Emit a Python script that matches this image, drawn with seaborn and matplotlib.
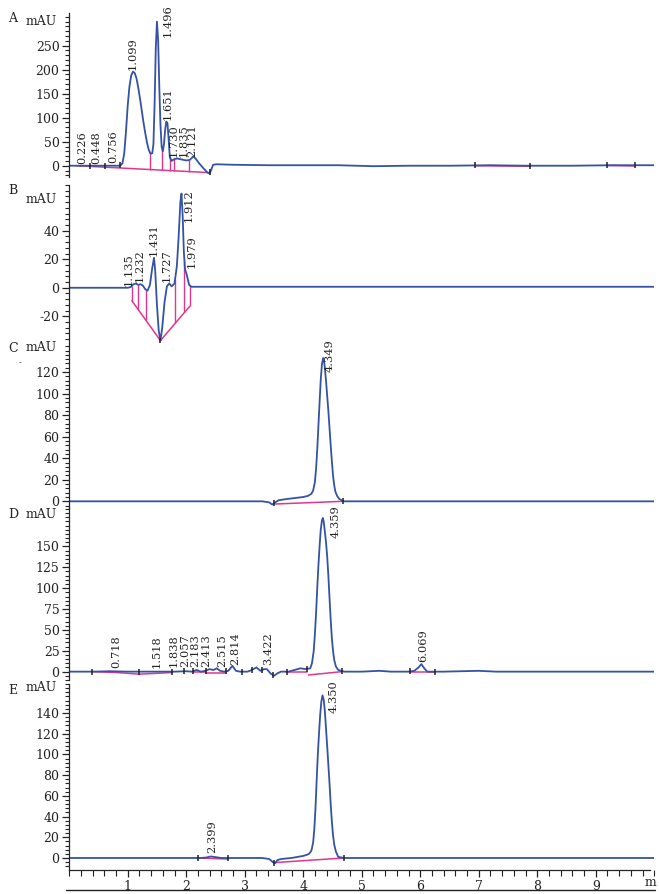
import numpy as np
import matplotlib
matplotlib.use("Agg")
import matplotlib.pyplot as plt
from matplotlib.ticker import MultipleLocator, FixedLocator, FuncFormatter
import seaborn as sns

sns.set_style("ticks")
plt.rcParams['font.family'] = ['DejaVu Serif']

BLUE = '#3452a6'
PINK = '#e2368c'

# ---- chromatogram A (time in min, signal in mAU)
a_time = [0.00, 0.30, 0.60, 0.85, 0.88, 0.91, 0.94, 0.97, 1.00, 1.03,
          1.06, 1.09, 1.12, 1.15, 1.18, 1.21, 1.24, 1.27, 1.30, 1.33,
          1.36, 1.39, 1.42, 1.44, 1.46, 1.48, 1.50, 1.52, 1.54, 1.56,
          1.58, 1.60, 1.62, 1.64, 1.66, 1.68, 1.70, 1.72, 1.75, 1.80,
          1.85, 1.92, 2.00, 2.06, 2.12, 2.16, 2.22, 2.30, 2.36, 2.40,
          2.43, 2.46, 2.52, 2.80, 3.40, 4.00, 4.60, 5.20, 5.80, 6.50,
          7.20, 7.80, 8.60, 9.30, 10.00]
a_mau = [0, 0, 0, 0, 1, 5, 25, 70, 125, 165,
         188, 196, 193, 182, 163, 140, 115, 90, 68, 48,
         33, 25, 26, 45, 130, 245, 300, 262, 165, 85,
         40, 30, 45, 75, 92, 88, 55, 18, 10, 14,
         15, 13, 11, 12, 19, 15, 5, -6, -14, -16,
         -8, 2, 3, 2, 1, 1, 1, -1, 0, 0,
         1, 0, 0, 1, 1]
a_peaks = ['0.226', '0.448', '0.756', '1.099', '1.496', '1.651', '1.730', '1.835', '2.121']
a_label_x = [0.22, 0.47, 0.75, 1.09, 1.69, 1.69, 1.79, 1.95, 2.11]
a_label_y = [4, 4, 5, 199, 269, 95, 19, 19, 19]
a_base = [([0.13, 2.41], [0, -14.5]), ([6.94, 7.88], [0, -1]), ([9.19, 9.67], [0.5, -0.5])]
a_drops = [1.38, 1.58, 1.72, 1.79, 2.04]
a_marks = [0.36, 0.61, 0.87, 2.41, 6.94, 7.88, 9.19, 9.67]

# ---- chromatogram B
b_time = [0.00, 0.50, 1.00, 1.05, 1.10, 1.14, 1.18, 1.22, 1.26, 1.30,
          1.34, 1.38, 1.42, 1.45, 1.47, 1.50, 1.53, 1.56, 1.59, 1.63,
          1.67, 1.71, 1.75, 1.80, 1.84, 1.87, 1.90, 1.92, 1.94, 1.96,
          1.98, 2.01, 2.05, 2.09, 2.30, 3.00, 4.00, 5.00, 6.00, 7.00,
          8.00, 9.00, 10.00]
b_mau = [0, 0, 0, 0.5, 2.5, 3, 2, 2.5, 1.5, -1,
         -2, 2, 14, 21, 12, -12, -30, -37, -28, -10,
         1, 3, 1, 3, 15, 35, 60, 66, 50, 25,
         13, 9, 2, 0.7, 0.7, 0.7, 0.7, 0.7, 0.7, 0.7,
         0.7, 0.7, 0.7]
b_peaks = ['1.135', '1.232', '1.431', '1.727', '1.912', '1.979']
b_label_x = [1.01, 1.21, 1.45, 1.67, 2.04, 2.09]
b_label_y = [1, 4, 22, 4, 46, 14]
b_base = [([1.07, 1.56, 2.06], [-9, -37, -13])]
b_drops = [1.07, 1.18, 1.31, 1.81, 1.97, 2.06]
b_marks = [1.56]

# ---- chromatogram C
c_time = [0.00, 1.00, 2.00, 3.00, 3.30, 3.42, 3.47, 3.52, 3.58, 3.70,
          3.85, 4.00, 4.08, 4.14, 4.17, 4.20, 4.22, 4.24, 4.26, 4.28,
          4.30, 4.32, 4.34, 4.355, 4.37, 4.39, 4.41, 4.43, 4.45, 4.47,
          4.49, 4.51, 4.53, 4.55, 4.58, 4.62, 4.70, 5.00, 6.00, 7.00,
          8.00, 9.00, 10.00]
c_mau = [0, 0, 0, 0, 0, -1, -3, -1, 1, 2,
         3, 4, 5, 7, 10, 18, 30, 48, 70, 92,
         113, 127, 133, 131, 124, 112, 98, 84, 68, 52,
         37, 24, 15, 9, 5, 2, 0, 0, 0, 0,
         0, 0, 0]
c_peaks = ['4.349']
c_label_x = [4.46]
c_label_y = [120]
c_base = [([3.52, 4.68], [-2.5, 0])]
c_drops = []
c_marks = [3.50, 4.68]

# ---- chromatogram D
d_time = [0.00, 0.40, 0.70, 1.00, 1.50, 1.80, 2.00, 2.10, 2.18, 2.25,
          2.33, 2.40, 2.47, 2.52, 2.58, 2.65, 2.72, 2.79, 2.85, 2.92,
          3.05, 3.12, 3.20, 3.27, 3.33, 3.38, 3.44, 3.50, 3.56, 3.62,
          3.75, 3.85, 3.95, 4.05, 4.12, 4.15, 4.18, 4.20, 4.22, 4.24,
          4.26, 4.28, 4.30, 4.32, 4.335, 4.35, 4.37, 4.39, 4.41, 4.43,
          4.45, 4.47, 4.49, 4.51, 4.53, 4.56, 4.60, 4.70, 5.00, 5.30,
          5.50, 5.80, 5.90, 5.97, 6.02, 6.07, 6.12, 6.40, 7.00, 7.30,
          8.00, 9.00, 10.00]
d_mau = [0, 0, 0.5, 0, 0, 0, 0.5, 0, 2, 0,
         1, 3, 2, 4, 1, 0, 1, 7, 1, 0,
         0, 2, 5, 1, 3, 3, -2, -5, -2, 0,
         0, 2, 4, 3, 4, 10, 25, 45, 70, 100,
         127, 150, 170, 181, 184, 180, 168, 155, 138, 115,
         88, 62, 40, 25, 14, 6, 2, 0, 0, 1,
         0, 0, 1, 5, 9, 4, 0, 0, 1, 0,
         0, 0, 0]
d_peaks = ['0.718', '1.518', '1.838', '2.057', '2.183', '2.413', '2.515', '2.814',
           '3.422', '4.359', '6.069']
d_label_x = [0.81, 1.50, 1.78, 1.98, 2.15, 2.35, 2.61, 2.83, 3.40, 4.56, 6.05]
d_label_y = [4, 4, 6, 6, 6, 6, 6, 8, 8, 160, 12]
d_base = [([0.39, 0.80, 1.19, 1.50, 1.76], [0, -1, -3, -2, -1]),
          ([2.12, 2.33], [-1, -1]), ([2.33, 2.68], [-2, -2]),
          ([3.72, 4.06], [-1, -1]), ([4.09, 4.66], [-4, 0]), ([5.83, 6.25], [-1, -1])]
d_drops = []
d_marks = [0.39, 1.19, 1.76, 1.97, 2.12, 2.33, 2.68, 2.95, 3.12, 3.29, 3.49,
           3.72, 4.06, 4.66, 5.83, 6.25]

# ---- chromatogram E
e_time = [0.00, 1.00, 2.00, 2.25, 2.35, 2.42, 2.48, 2.60, 3.00, 3.30,
          3.42, 3.48, 3.52, 3.56, 3.62, 3.80, 4.00, 4.06, 4.10, 4.14,
          4.17, 4.19, 4.21, 4.23, 4.25, 4.27, 4.29, 4.31, 4.33, 4.35,
          4.37, 4.39, 4.41, 4.43, 4.45, 4.47, 4.49, 4.51, 4.53, 4.56,
          4.60, 4.70, 5.00, 6.00, 7.00, 8.00, 9.00, 10.00]
e_mau = [0, 0, 0, 0, 0.5, 1.5, 1, 0, 0, 0,
         -1, -4, -5, -2, -1, 0, 2, 3, 4, 7,
         15, 28, 48, 75, 100, 120, 138, 151, 157, 153,
         142, 125, 108, 90, 72, 52, 35, 22, 13, 6,
         1, 0, 0, 0, 0, 0, 0, 0]
e_peaks = ['2.399', '4.350']
e_label_x = [2.44, 4.52]
e_label_y = [5, 140]
e_base = [([2.21, 2.72], [0, -1]), ([3.50, 4.69], [-4.5, 0])]
e_drops = []
e_marks = [2.21, 2.72, 3.50, 4.69]

x_ticks = [1, 2, 3, 4, 5, 6, 7, 8, 9]

# layout: letter, pixel top/bottom, ylim, major step, minor step, last labelled tick, mAU height
panels = [
    dict(letter='A', top=13, bot=177, ylim=(-23.5, 318), major=50, minor=10, lab_max=250, mau=300,
         data=(a_time, a_mau, a_peaks, a_label_x, a_label_y, a_base, a_drops, a_marks)),
    dict(letter='B', top=185, bot=342, ylim=(-38, 72), major=20, minor=4, lab_max=40, mau=62,
         data=(b_time, b_mau, b_peaks, b_label_x, b_label_y, b_base, b_drops, b_marks)),
    dict(letter='C', top=343, bot=508, ylim=(-6.2, 147), major=20, minor=4, lab_max=120, mau=143,
         data=(c_time, c_mau, c_peaks, c_label_x, c_label_y, c_base, c_drops, c_marks)),
    dict(letter='D', top=508, bot=680, ylim=(-10, 196), major=25, minor=5, lab_max=150, mau=188,
         data=(d_time, d_mau, d_peaks, d_label_x, d_label_y, d_base, d_drops, d_marks)),
    dict(letter='E', top=684, bot=870, ylim=(-11.6, 168), major=20, minor=4, lab_max=140, mau=165,
         data=(e_time, e_mau, e_peaks, e_label_x, e_label_y, e_base, e_drops, e_marks)),
]

W, H = 659, 894
fig = plt.figure(figsize=(W / 100, H / 100), dpi=100)
x0_px, px_per_min = 69.2, 58.5
xmax = 10.0

for i, p in enumerate(panels):
    ax = fig.add_axes([x0_px / W, 1 - p['bot'] / H, xmax * px_per_min / W, (p['bot'] - p['top']) / H])
    t, y, peaks, lx, ly, bases, drops, marks = p['data']

    for bt, bv in bases:
        sns.lineplot(x=bt, y=bv, ax=ax, color=PINK, lw=1.1, sort=False, estimator=None)
    for d in drops:
        for bt, bv in bases:
            if bt[0] - 1e-9 <= d <= bt[-1] + 1e-9:
                ax.vlines(d, np.interp(d, bt, bv), np.interp(d, t, y), color=PINK, lw=1.0)
    sns.lineplot(x=t, y=y, ax=ax, color=BLUE, lw=1.3, sort=False, estimator=None)
    if marks:
        ax.plot(marks, np.interp(marks, t, y), '|', color='#222222', ms=5, mew=1.1)

    for s, xx, yy in zip(peaks, lx, ly):
        ax.text(xx, yy, s, rotation=90, ha='center', va='bottom', fontsize=8.2, color='#222222',
                clip_on=False)

    ax.set_xlim(0, xmax)
    ax.set_ylim(*p['ylim'])
    ax.set_xlabel('')
    ax.set_ylabel('')
    lab_max = p['lab_max']
    ax.yaxis.set_major_locator(FixedLocator(list(np.arange(
        np.ceil(p['ylim'][0] / p['major']) * p['major'], lab_max + 1, p['major']))))
    ax.yaxis.set_minor_locator(MultipleLocator(p['minor']))
    ax.yaxis.set_major_formatter(FuncFormatter(lambda v, pos: '%d' % round(v)))
    ax.tick_params(axis='y', which='major', direction='out', length=5, width=0.9,
                   labelsize=9, pad=2, colors='#222222')
    ax.tick_params(axis='y', which='minor', direction='out', length=3, width=0.8, colors='#222222')
    ax.text(-0.022, p['mau'], 'mAU', transform=ax.get_yaxis_transform(), ha='right', va='center',
            fontsize=9, color='#222222')
    fig.text(8 / W, 1 - (p['top'] + 6) / H, p['letter'], fontsize=9, ha='left', va='center',
             color='#222222')

    sns.despine(ax=ax, top=True, right=True, bottom=(p['letter'] != 'E'))
    ax.spines['left'].set_linewidth(0.9)
    if p['letter'] != 'E':
        ax.set_xticks([])
    else:
        ax.spines['bottom'].set_linewidth(0.9)
        ax.spines['bottom'].set_bounds(0, 9.93)
        ax.xaxis.set_major_locator(FixedLocator(x_ticks))
        ax.xaxis.set_minor_locator(MultipleLocator(0.2))
        ax.tick_params(axis='x', which='major', direction='out', length=5, width=0.9,
                       labelsize=9, pad=2, colors='#222222')
        ax.tick_params(axis='x', which='minor', direction='out', length=4, width=0.8,
                       colors='#222222')
    ax.patch.set_alpha(0)

fig.text(650 / W, 1 - 883 / H, 'm', fontsize=9, ha='center', va='center', color='#222222')
fig.text(20 / W, 1 - 363 / H, '-', fontsize=6, ha='center', va='center', color='#222222')
fig.add_artist(plt.Line2D([66 / W, 655 / W], [1 - 889.5 / H, 1 - 889.5 / H], color='#222222', lw=1.0))

fig.savefig('out.png', dpi=100)
